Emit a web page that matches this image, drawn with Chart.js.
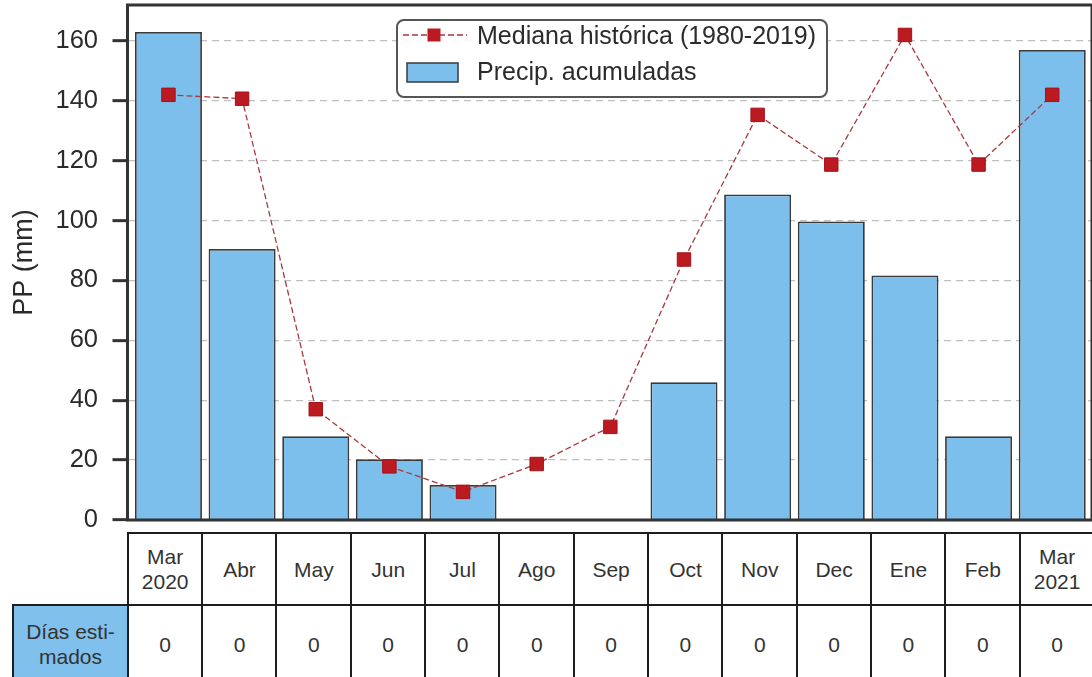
<!DOCTYPE html>
<html>
<head>
<meta charset="utf-8">
<script src="https://cdn.jsdelivr.net/npm/chart.js@4.4.1/dist/chart.umd.min.js"></script>
<style>
html,body{margin:0;padding:0;background:#fff;width:1092px;height:677px;overflow:hidden;font-family:"Liberation Sans",Arial,sans-serif;}
#wrap{position:relative;width:1092px;height:677px;}
#c{position:absolute;left:0;top:0;}
.cell{position:absolute;box-sizing:border-box;border:2.5px solid #1e1e1e;display:flex;align-items:center;justify-content:center;text-align:center;color:#333;font-size:21px;line-height:25px;background:#fff;}
.lab{background:#7fc0ec;}
</style>
</head>
<body>
<div id="wrap">
<canvas id="c" width="1092" height="677"></canvas>
</div>
<script>
// ---- data ----
const months = ['Mar\n2020','Abr','May','Jun','Jul','Ago','Sep','Oct','Nov','Dec','Ene','Feb','Mar\n2021'];
const precip = [163, 90.5, 28, 20.3, 11.7, 0, 0.3, 46, 108.7, 99.7, 81.7, 28, 157];
const median = [142, 140.7, 37, 17.9, 9.4, 18.7, 31.1, 87, 135.3, 118.7, 162, 118.7, 142];
const estDays = [0,0,0,0,0,0,0,0,0,0,0,0,0];
const yTicks = [0,20,40,60,80,100,120,140,160];
const rowLabel = 'Días esti-\nmados';
const seriesNames = ['Mediana histórica (1980-2019)','Precip. acumuladas'];

const FONT = '"Liberation Sans", Arial, sans-serif';
Chart.defaults.font.family = FONT;

const barColor = '#7cbfec';
const barEdge = '#3a3a3a';
const lineColor = '#a8393c';
const markColor = '#bb1a21';

const framePlugin = {
  id:'frame',
  afterDraw(chart){
    const {ctx, chartArea:a} = chart;
    ctx.save();
    ctx.strokeStyle = '#333';
    ctx.lineWidth = 3;
    ctx.strokeRect(a.left, a.top, a.right - a.left, a.bottom - a.top);
    ctx.restore();
  }
};

const legendPlugin = {
  id:'boxLegend',
  afterDraw(chart){
    const ctx = chart.ctx;
    const ds = chart.data.datasets;
    ctx.save();
    const x0=397, y0=20, w=430, h=77, r=7;
    ctx.beginPath();
    ctx.roundRect(x0,y0,w,h,r);
    ctx.fillStyle='rgba(255,255,255,0.92)';
    ctx.fill();
    ctx.lineWidth=2;
    ctx.strokeStyle='#555';
    ctx.stroke();
    // row 1: line sample
    const y1=35;
    ctx.beginPath();
    ctx.setLineDash([6,3]);
    ctx.lineWidth=1.3;
    ctx.strokeStyle=lineColor;
    ctx.moveTo(403,y1); ctx.lineTo(467,y1);
    ctx.stroke();
    ctx.setLineDash([]);
    ctx.fillStyle=markColor;
    ctx.fillRect(434-6.5,y1-6.5,13,13);
    // row 2: bar sample
    const y2=72;
    ctx.fillStyle=barColor;
    ctx.fillRect(407,y2-9,51,19);
    ctx.lineWidth=1.5;
    ctx.strokeStyle=barEdge;
    ctx.strokeRect(407,y2-9,51,19);
    ctx.fillStyle='#2b2b2b';
    ctx.font='25px '+FONT;
    ctx.textBaseline='middle';
    ctx.textAlign='left';
    ctx.fillText(ds[0].label,477,y1+2);
    ctx.fillText(ds[1].label,477,y2+1);
    ctx.restore();
  }
};

const chart = new Chart(document.getElementById('c'), {
  type:'bar',
  data:{
    datasets:[
      {
        type:'line',
        label:seriesNames[0],
        data:median.map((v,i)=>({x:i,y:v})),
        borderColor:lineColor,
        borderWidth:1.3,
        borderDash:[6,3],
        pointStyle:'rect',
        pointRadius:9.5,
        pointBackgroundColor:markColor,
        pointBorderColor:'#a5121a',
        pointBorderWidth:1,
        tension:0,
        order:0
      },
      {
        type:'bar',
        label:seriesNames[1],
        data:precip.map((v,i)=>({x:i,y:v})),
        backgroundColor:barColor,
        borderColor:barEdge,
        borderWidth:1.8,
        borderSkipped:'bottom',
        categoryPercentage:1,
        barPercentage:0.91,
        order:1
      }
    ]
  },
  options:{
    responsive:false,
    animation:false,
    devicePixelRatio:1,
    layout:{autoPadding:false,padding:{top:5,bottom:157,left:0,right:0}},
    plugins:{legend:{display:false},tooltip:{enabled:false}},
    scales:{
      x:{
        type:'linear',
        offset:false,
        min:-0.556,
        max:12.54,
        display:false
      },
      y:{
        min:0,
        max:172,
        z:1,
        afterFit(s){ s.width = 127.5; s.paddingTop = 0; s.paddingBottom = 0; },
        afterBuildTicks(s){ s.ticks = yTicks.map(v=>({value:v})); },
        ticks:{color:'#2b2b2b',font:{size:25.5},padding:14.5},
        grid:{
          color:(c)=> (c.tick && c.tick.value===0) ? 'rgba(0,0,0,0)' : 'rgba(150,150,150,0.6)',
          lineWidth:1.3,
          tickLength:15,
          tickWidth:3,
          tickColor:'#333',
          tickBorderDash:[]
        },
        border:{display:false,dash:[7,5]},
        title:{display:true,text:'PP (mm)',color:'#2b2b2b',font:{size:27},padding:{top:8.5,bottom:0}}
      }
    }
  },
  plugins:[framePlugin, legendPlugin]
});

// ---- table below the plot ----
const wrap = document.getElementById('wrap');
const tLeft = 128, colW = 74.33, r1Top = 533, rowH = 72;
function addCell(x, y, w, h, text, cls){
  const d = document.createElement('div');
  d.className = 'cell' + (cls ? ' '+cls : '');
  d.style.left = (x - 1.25) + 'px';
  d.style.top = (y - 1.25) + 'px';
  d.style.width = (w + 2.5) + 'px';
  d.style.height = (h + 2.5) + 'px';
  d.innerHTML = String(text).split('\n').join('<br>');
  wrap.appendChild(d);
}
months.forEach((m,k)=>{
  addCell(tLeft + k*colW, r1Top, colW, rowH, m);
  addCell(tLeft + k*colW, r1Top + rowH, colW, rowH + 6, estDays[k]);
});
addCell(13, r1Top + rowH, tLeft - 13, rowH + 6, rowLabel, 'lab');
</script>
</body>
</html>
